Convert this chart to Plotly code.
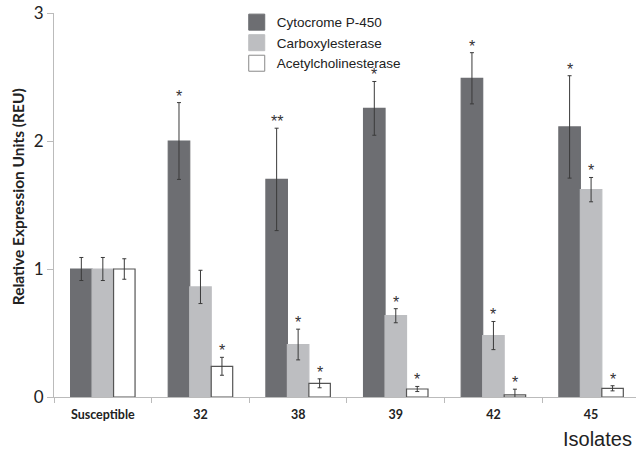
import plotly.graph_objects as go

categories = ["Susceptible", "32", "38", "39", "42", "45"]
series_names = ["Cytocrome P-450", "Carboxylesterase", "Acetylcholinesterase"]

cyto = [1.0, 2.0, 1.70, 2.255, 2.49, 2.11]
cyto_err = [0.09, 0.30, 0.40, 0.21, 0.20, 0.40]
carb = [1.0, 0.86, 0.41, 0.635, 0.48, 1.62]
carb_err = [0.09, 0.13, 0.12, 0.055, 0.11, 0.095]
acet = [1.0, 0.24, 0.107, 0.0625, 0.016, 0.068]
acet_err = [0.08, 0.07, 0.035, 0.02, 0.045, 0.02]

sig_cyto = ["", "*", "**", "*", "*", "*"]
sig_carb = ["", "", "*", "*", "*", "*"]
sig_acet = ["", "*", "*", "*", "*", "*"]

values = [cyto, carb, acet]
errors = [cyto_err, carb_err, acet_err]
sigs = [sig_cyto, sig_carb, sig_acet]
fills = ["#6d6e72", "#bdbec1", "#ffffff"]
outlines = ["#6d6e72", "#bdbec1", "#555555"]

bargap = 0.34

fig = go.Figure()
for name, v, e, fc, oc in zip(series_names, values, errors, fills, outlines):
    fig.add_trace(go.Bar(
        name=name, x=categories, y=v, showlegend=False,
        marker=dict(color=fc, line=dict(color=oc, width=1.2)),
        error_y=dict(type="data", array=e, visible=True, color="#3a3a3a",
                     thickness=1, width=2),
    ))

# legend entries with large square swatches
for name, fc, oc in zip(series_names, fills, outlines):
    fig.add_trace(go.Scatter(
        name=name, x=[None], y=[None], mode="markers", showlegend=True,
        marker=dict(symbol="square", size=16, color=fc,
                    line=dict(color="#888888" if fc == "#ffffff" else fc, width=1)),
    ))

w = (1 - bargap) / 3
for j, (v, e, s) in enumerate(zip(values, errors, sigs)):
    for i in range(len(categories)):
        if s[i]:
            fig.add_annotation(
                x=i + (j - 1) * w, y=v[i] + e[i], xref="x", yref="y",
                text=s[i], showarrow=False, yanchor="bottom", yshift=-4,
                font=dict(family="Liberation Sans", size=16, color="#333333"),
            )

fig.add_annotation(
    x=1, y=0, xref="paper", yref="paper", xanchor="right", yanchor="top",
    xshift=-2, yshift=-29, text="Isolates", showarrow=False,
    font=dict(family="Liberation Sans", size=20, color="#222222"),
)

fig.add_annotation(
    x=0, y=0.52, xref="paper", yref="paper", xanchor="center",
    yanchor="middle", xshift=-36, textangle=-90, showarrow=False,
    text="<b>Relative Expression Units (REU)</b>",
    font=dict(family="Lato", size=15.5, color="#222222"),
)

fig.update_layout(
    width=636, height=451,
    margin=dict(l=54, r=0, t=13, b=54),
    paper_bgcolor="white", plot_bgcolor="white",
    barmode="group", bargap=bargap, bargroupgap=0,
    showlegend=True,
    legend=dict(x=0.314, y=1.016, xanchor="left", yanchor="top",
                bgcolor="rgba(0,0,0,0)", tracegroupgap=2,
                font=dict(family="Liberation Sans", size=13.5, color="#222222")),
    xaxis=dict(type="category", range=[-0.5, 5.46], showline=True,
               linecolor="#bbbbbb", linewidth=1, ticks="outside",
               tickson="boundaries", ticklen=5, tickcolor="#bbbbbb",
               showgrid=False, automargin=False, ticklabelstandoff=6,
               tickfont=dict(family="Lato", size=12.5, color="#222222",
                             weight="bold")),
    yaxis=dict(range=[0, 3], tickvals=[0, 1, 2, 3], showline=True,
               linecolor="#bbbbbb", linewidth=1, ticks="outside", ticklen=6,
               tickcolor="#bbbbbb", showgrid=False, zeroline=False,
               automargin=False, ticklabeloverflow="allow",
               tickfont=dict(family="Lato", size=17, color="#222222")),
)

fig.write_html(
    "out.html",
    config={"displayModeBar": False},
    post_script="document.body.style.margin='0';document.body.style.overflow='hidden';",
)
